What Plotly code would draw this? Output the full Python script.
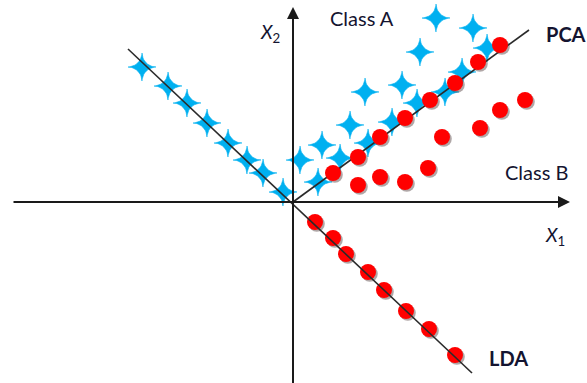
import math
import plotly.graph_objects as go

# --- data (origin of the two axes at 0,0) ---
# Class A (blue stars) scattered above the PCA line
starA_x = [7, 29, 57, 72, 109, 127, 143, 180]
starA_y = [42, 57, 77, 110, 117, 150, 184, 174]
# Class A stars lying along the PCA direction (mostly hidden behind the red dots)
starP_x = [25, 47, 75, 99, 124, 152, 169, 194]
starP_y = [20, 44, 59, 80, 99, 110, 130, 154]
# Class A stars projected on the LDA direction
starL_x = [-151, -125, -106, -86, -65, -46, -30, -10]
starL_y = [135, 116, 99, 79, 59, 42, 29, 10]

# Class B (red dots) along the PCA line
dotP_x = [40, 65, 87, 112, 137, 162, 185, 207]
dotP_y = [29, 45, 65, 84, 102, 119, 140, 157]
# Class B scattered below the PCA line
dotB_x = [65, 87, 112, 135, 149, 187, 207, 232]
dotB_y = [17, 25, 20, 34, 65, 74, 92, 102]
# Class B projected on the LDA direction
dotL_x = [22, 40, 53, 75, 91, 113, 136, 162]
dotL_y = [-20, -36, -52, -70, -88, -109, -127, -153]

# projection directions
pca_x = [0, 236]
pca_y = [0, 172]
lda_x = [-165, 179]
lda_y = [153, -171]

BLUE = "#00B0F0"
RED = "#FF0000"
TXT = "#141430"
FONT = "Lato, Carlito, Calibri, sans-serif"


def star_paths(xs, ys, r=14, p=3.5, n=64):
    # four-pointed star outline around every centre (axis units are px here)
    px, py = [], []
    for cx, cy in zip(xs, ys):
        for i in range(n + 1):
            t = 2 * math.pi * i / n
            c, s = math.cos(t), math.sin(t)
            px.append(cx + r * math.copysign(abs(c) ** p, c))
            py.append(cy + r * math.copysign(abs(s) ** p, s))
        px.append(None)
        py.append(None)
    return px, py


fig = go.Figure()

# blue stars
sx, sy = star_paths(starA_x + starP_x + starL_x, starA_y + starP_y + starL_y)
fig.add_trace(go.Scatter(x=sx, y=sy, mode="lines", fill="toself", fillcolor=BLUE,
                         line=dict(width=0.6, color=BLUE), hoverinfo="skip"))

# PCA line
fig.add_trace(go.Scatter(x=pca_x, y=pca_y, mode="lines",
                         line=dict(color="#2a2a2a", width=1.6)))

# red dots with a soft shadow
all_dx = dotP_x + dotB_x + dotL_x
all_dy = dotP_y + dotB_y + dotL_y
fig.add_trace(go.Scatter(x=[v + 1.8 for v in all_dx], y=[v - 1.8 for v in all_dy],
                         mode="markers", hoverinfo="skip",
                         marker=dict(symbol="circle", size=16, color="rgba(80,60,60,0.45)",
                                     line=dict(width=0))))
fig.add_trace(go.Scatter(x=all_dx, y=all_dy, mode="markers",
                         marker=dict(symbol="circle", size=16, color=RED, line=dict(width=0))))

# LDA line
fig.add_trace(go.Scatter(x=lda_x, y=lda_y, mode="lines",
                         line=dict(color="#2a2a2a", width=1.6)))

# axes with arrow heads
axis_arrows = [
    dict(x=277, y=0, ax=-281, ay=0),    # X1
    dict(x=0, y=195, ax=0, ay=-190),    # X2
]
for a in axis_arrows:
    fig.add_annotation(x=a["x"], y=a["y"], ax=a["ax"], ay=a["ay"],
                       xref="x", yref="y", axref="x", ayref="y",
                       text="", showarrow=True, arrowhead=2, arrowsize=1.2,
                       arrowwidth=2, arrowcolor="#1a1a1a")

labels = [
    ("Class A", 69, 184, False),
    ("PCA", 273, 168, True),
    ("Class B", 243, 30, False),
    ("LDA", 215, -156, True),
]
for txt, x, y, bold in labels:
    fig.add_annotation(x=x, y=y, xref="x", yref="y", showarrow=False,
                       text=f"<b>{txt}</b>" if bold else txt,
                       font=dict(family=FONT, size=20, color=TXT))

fig.add_annotation(x=-23, y=169, xref="x", yref="y", showarrow=False,
                   text="<i>X</i><sub>2</sub>", font=dict(family=FONT, size=19, color=TXT))
fig.add_annotation(x=262, y=-34, xref="x", yref="y", showarrow=False,
                   text="<i>X</i><sub>1</sub>", font=dict(family=FONT, size=19, color=TXT))

fig.update_layout(
    width=587, height=383,
    margin=dict(l=0, r=0, t=0, b=0),
    paper_bgcolor="white", plot_bgcolor="white",
    showlegend=False,
    xaxis=dict(range=[-293, 294], visible=False, fixedrange=True),
    yaxis=dict(range=[-181, 202], visible=False, fixedrange=True),
)

# remove the default page margin so the figure sits at the window's corner
fig.write_html("out.html", config={"displayModeBar": False},
               post_script="document.body.style.margin='0';")
